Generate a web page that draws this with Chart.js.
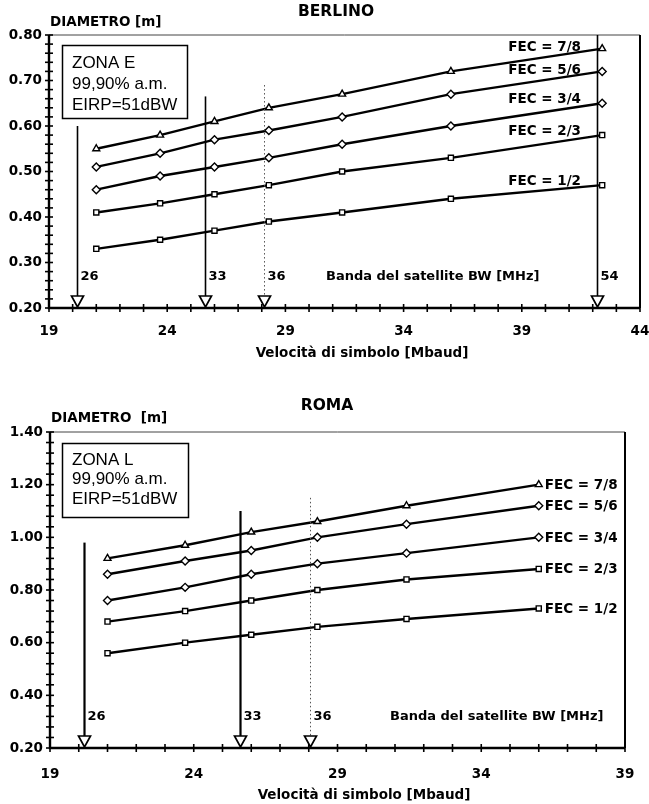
<!DOCTYPE html>
<html>
<head>
<meta charset="utf-8">
<script src="https://cdn.jsdelivr.net/npm/chart.js@4.4.1/dist/chart.umd.min.js"></script>
<style>
  html, body { margin: 0; background: #fff; }
  #w1 { position: absolute; left: 0; top: 0; width: 649px; height: 375px; }
  #w2 { position: absolute; left: 0; top: 375px; width: 649px; height: 429px; }
</style>
</head>
<body>
<div id="w1"><canvas id="c1"></canvas></div>
<div id="w2"><canvas id="c2"></canvas></div>
<script>
/* ---------- dati ---------- */
const fecNomi = ["FEC = 7/8", "FEC = 5/6", "FEC = 3/4", "FEC = 2/3", "FEC = 1/2"];

// Berlino (zona E)
const berlinoX = [21.0, 23.7, 26.0, 28.3, 31.4, 36.0, 42.4];
const berlino78 = [0.55, 0.58, 0.61, 0.64, 0.67, 0.72, 0.77];
const berlino56 = [0.51, 0.54, 0.57, 0.59, 0.62, 0.67, 0.72];
const berlino34 = [0.46, 0.49, 0.51, 0.53, 0.56, 0.60, 0.65];
const berlino23 = [0.41, 0.43, 0.45, 0.47, 0.50, 0.53, 0.58];
const berlino12 = [0.33, 0.35, 0.37, 0.39, 0.41, 0.44, 0.47];
const berlinoYTicks = [0.20, 0.30, 0.40, 0.50, 0.60, 0.70, 0.80];
const berlinoXTicks = [19, 24, 29, 34, 39, 44];
const berlinoBW = [26, 33, 36, 54];              // banda satellite [MHz]
const berlinoBWx = [20.2, 25.6, 28.1, 42.2];     // velocità di simbolo corrispondente
const berlinoBWtop = [0.60, 0.665, 0.69, 0.80];  // inizio della freccia

// Roma (zona L)
const romaX = [21.0, 23.7, 26.0, 28.3, 31.4, 36.0];
const roma78 = [0.92, 0.97, 1.02, 1.06, 1.12, 1.20];
const roma56 = [0.86, 0.91, 0.95, 1.00, 1.05, 1.12];
const roma34 = [0.76, 0.81, 0.86, 0.90, 0.94, 1.00];
const roma23 = [0.68, 0.72, 0.76, 0.80, 0.84, 0.88];
const roma12 = [0.56, 0.60, 0.63, 0.66, 0.69, 0.73];
const romaYTicks = [0.20, 0.40, 0.60, 0.80, 1.00, 1.20, 1.40];
const romaXTicks = [19, 24, 29, 34, 39];
const romaBW = [26, 33, 36];
const romaBWx = [20.2, 25.6, 28.05];
const romaBWtop = [0.98, 1.10, 1.15];

const BOLD = "'DejaVu Sans', sans-serif";
const PLAIN = "'Liberation Sans', Arial, sans-serif";
const stili = ["triangle", "rectRot", "rectRot", "rect", "rect"];

const near = (arr, v) => arr.some((t) => Math.abs(t - v) < 1e-6);

function serie(xs, rows) {
  return rows.map((ys, i) => ({
    label: fecNomi[i],
    data: xs.map((x, j) => ({ x, y: ys[j] })),
    borderColor: "#000", borderWidth: 2.4, tension: 0,
    pointStyle: stili[i], pointRadius: stili[i] === "rect" ? 3.6 : 4,
    pointBackgroundColor: "#fff", pointBorderColor: "#000", pointBorderWidth: 1.4,
  }));
}

/* ---------- decorazioni: cornice, tacche, frecce, testi ---------- */
const deco = {
  id: "deco",
  afterDraw(ch, args, o) {
    const g = ch.ctx, xs = ch.scales.x, ys = ch.scales.y, a = ch.chartArea;
    g.save();
    // cornice
    g.lineWidth = 1; g.strokeStyle = "#444";
    g.beginPath(); g.moveTo(a.left, a.top); g.lineTo(a.right, a.top); g.stroke();
    g.strokeStyle = "#000"; g.lineWidth = 2;
    g.beginPath(); g.moveTo(a.right, a.top); g.lineTo(a.right, a.bottom); g.stroke();
    g.lineWidth = 2.4;
    g.beginPath(); g.moveTo(a.left, a.top); g.lineTo(a.left, a.bottom); g.lineTo(a.right, a.bottom); g.stroke();
    // tacche
    g.lineWidth = 1.6;
    ys.ticks.forEach((t) => {
      const py = ys.getPixelForValue(t.value);
      g.beginPath(); g.moveTo(a.left - 4, py); g.lineTo(a.left + 4, py); g.stroke();
    });
    xs.ticks.forEach((t) => {
      const px = xs.getPixelForValue(t.value);
      g.beginPath(); g.moveTo(px, a.bottom - 4); g.lineTo(px, a.bottom + 4); g.stroke();
    });
    // frecce banda satellite
    o.bw.forEach((bw, i) => {
      const px = Math.round(xs.getPixelForValue(o.bwX[i])) + 0.5;
      const top = ys.getPixelForValue(o.bwTop[i]);
      const tb = a.bottom - 12;
      if (o.dotted === bw) {
        g.strokeStyle = "#555"; g.lineWidth = 1; g.setLineDash([1.5, 2.5]);
      } else {
        g.strokeStyle = "#000"; g.lineWidth = o.arrowW; g.setLineDash([]);
      }
      g.beginPath(); g.moveTo(px, top); g.lineTo(px, tb); g.stroke();
      g.setLineDash([]); g.strokeStyle = "#000"; g.lineWidth = 1.7; g.fillStyle = "#fff";
      g.beginPath(); g.moveTo(px - 6, tb); g.lineTo(px + 6, tb); g.lineTo(px, a.bottom - 1); g.closePath();
      g.fill(); g.stroke();
      g.fillStyle = "#000"; g.font = "bold 13px " + BOLD; g.textAlign = "left"; g.textBaseline = "middle";
      g.fillText(String(bw), px + 3, a.bottom - 31);
    });
    g.font = "bold 13px " + BOLD; g.textAlign = "left"; g.textBaseline = "middle";
    g.fillText("Banda del satellite BW [MHz]", o.bandaX, a.bottom - 31);
    // etichette FEC
    g.font = "bold 13.5px " + BOLD; g.textBaseline = "middle";
    o.fec.forEach((f, i) => {
      if (o.fecAlign === "right") {
        g.textAlign = "right";
        g.fillText(fecNomi[i], o.fecX, f);
      } else {
        const ds = ch.data.datasets[i].data;
        const last = ds[ds.length - 1];
        g.textAlign = "left";
        g.fillText(fecNomi[i], xs.getPixelForValue(last.x) + 6, ys.getPixelForValue(last.y) + 1);
      }
    });
    // riquadro zona
    const b = o.box;
    g.fillStyle = "#fff"; g.fillRect(b.x, b.y, b.w, b.h);
    g.lineWidth = 1.5; g.strokeRect(b.x + 0.5, b.y + 0.5, b.w, b.h);
    g.fillStyle = "#000"; g.font = "17px " + PLAIN; g.textAlign = "left"; g.textBaseline = "middle";
    o.boxText.forEach((t, i) => g.fillText(t, b.x + 10, b.ty + i * b.dy));
    // titoli
    g.font = "bold 15.5px " + BOLD; g.textAlign = "center";
    g.fillText(o.titolo, o.titoloX, o.titoloY);
    g.font = "bold 13.5px " + BOLD; g.textAlign = "left";
    g.fillText(o.yTitolo, a.left + 1, o.yTitoloY);
    g.textAlign = "center";
    g.fillText("Velocità di simbolo [Mbaud]", o.xTitoloX, o.xTitoloY);
    g.restore();
  },
};

function grafico(id, cfg) {
  return new Chart(document.getElementById(id), {
    type: "line",
    data: { datasets: serie(cfg.xs, cfg.rows) },
    options: {
      responsive: true, maintainAspectRatio: false, animation: false,
      layout: { padding: cfg.pad },
      plugins: { legend: { display: false }, tooltip: { enabled: false }, deco: cfg.deco },
      scales: {
        x: {
          type: "linear", min: cfg.xMin, max: cfg.xMax,
          grid: { display: false, drawTicks: false }, border: { display: false },
          afterFit: (s) => { s.height = cfg.xH; s.paddingLeft = 0; s.paddingRight = 0; },
          ticks: {
            stepSize: 1, autoSkip: false, maxRotation: 0, padding: cfg.xPad,
            color: "#000", font: { family: BOLD, weight: "bold", size: 13.5 },
            callback: (v) => (near(cfg.xTicks, v) ? String(v) : ""),
          },
        },
        y: {
          min: cfg.yMin, max: cfg.yMax,
          grid: { display: false, drawTicks: false }, border: { display: false },
          afterFit: (s) => { s.width = cfg.yW; s.paddingTop = 0; s.paddingBottom = 0; },
          ticks: {
            stepSize: cfg.yStep, autoSkip: false, padding: 7,
            color: "#000", font: { family: BOLD, weight: "bold", size: 13.5 },
            callback: (v) => (near(cfg.yTicks, v) ? v.toFixed(2) : ""),
          },
        },
      },
    },
    plugins: [deco],
  });
}

grafico("c1", {
  xs: berlinoX, rows: [berlino78, berlino56, berlino34, berlino23, berlino12],
  xMin: 19, xMax: 44, yMin: 0.2, yMax: 0.8, yStep: 0.02,
  xTicks: berlinoXTicks, yTicks: berlinoYTicks,
  pad: { top: 35, right: 9, left: 0, bottom: 0 }, xH: 67, yW: 49, xPad: 15,
  deco: {
    bw: berlinoBW, bwX: berlinoBWx, bwTop: berlinoBWtop, dotted: 36, arrowW: 1.6,
    bandaX: 326,
    fecAlign: "right", fecX: 581, fec: [47, 70, 99, 131, 181],
    box: { x: 62, y: 45, w: 125, h: 73, ty: 63, dy: 21 },
    boxText: ["ZONA E", "99,90% a.m.", "EIRP=51dBW"],
    titolo: "BERLINO", titoloX: 336, titoloY: 12,
    yTitolo: "DIAMETRO [m]", yTitoloY: 22, xTitoloX: 362, xTitoloY: 353,
  },
});

grafico("c2", {
  xs: romaX, rows: [roma78, roma56, roma34, roma23, roma12],
  xMin: 19, xMax: 39, yMin: 0.2, yMax: 1.4, yStep: 0.04,
  xTicks: romaXTicks, yTicks: romaYTicks,
  pad: { top: 57, right: 24, left: 0, bottom: 0 }, xH: 56, yW: 50, xPad: 18,
  deco: {
    bw: romaBW, bwX: romaBWx, bwTop: romaBWtop, dotted: 36, arrowW: 2.2,
    bandaX: 390,
    fecAlign: "left", fec: [0, 0, 0, 0, 0],
    box: { x: 62, y: 68, w: 126, h: 74, ty: 85, dy: 19.5 },
    boxText: ["ZONA L", "99,90% a.m.", "EIRP=51dBW"],
    titolo: "ROMA", titoloX: 327, titoloY: 31,
    yTitolo: "DIAMETRO  [m]", yTitoloY: 43, xTitoloX: 364, xTitoloY: 420,
  },
});
</script>
</body>
</html>
